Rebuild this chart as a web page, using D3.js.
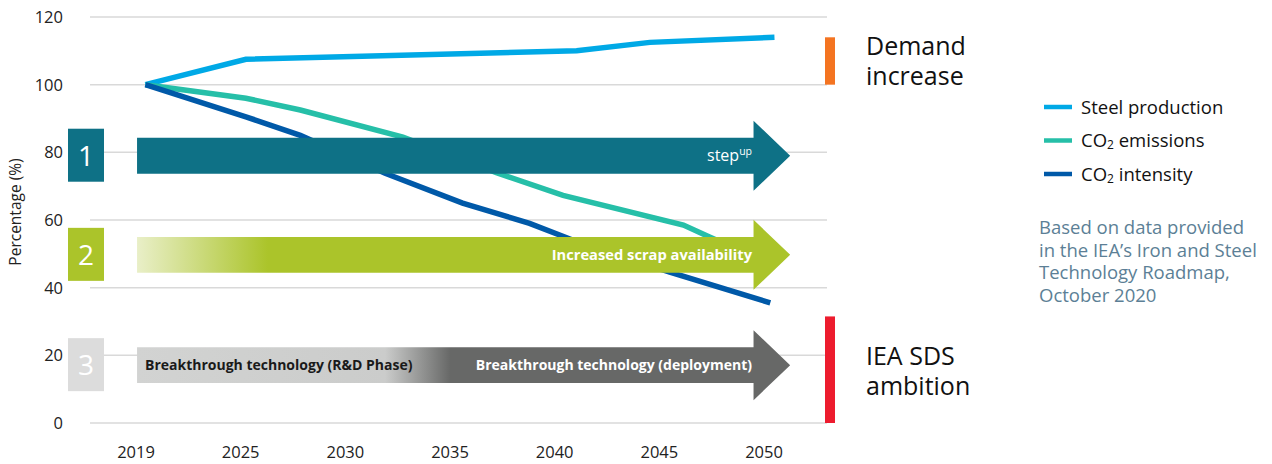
<!DOCTYPE html>
<html>
<head>
<meta charset="utf-8">
<script src="https://cdn.jsdelivr.net/npm/d3@7"></script>
<style>
  body { margin: 0; background: #fff; }
  svg { display: block; font-family: 'Open Sans', sans-serif; }
</style>
</head>
<body>
<svg id="chart" width="1272" height="464"></svg>
<script>
// Category labels on the x axis
var years = ['2019', '2025', '2030', '2035', '2040', '2045', '2050'];

// Y axis ticks
var yTicks = [0, 20, 40, 60, 80, 100, 120];

// Series, as [category position, percentage]
var steelProduction = [[0.09, 100], [1.05, 107.5], [4.21, 110], [4.91, 112.5], [6.1, 114]];
var co2Emissions = [[0.09, 100], [1.05, 96], [1.57, 92.5], [2.55, 84.5], [3.45, 73.9], [4.08, 67.3], [5.23, 58.5], [5.48, 55], [6.06, 47]];
var co2Intensity = [[0.09, 100], [1.05, 90.5], [1.57, 85], [2.38, 73.8], [3.12, 65], [3.76, 59], [4.22, 53.5], [5.1, 44.6], [6.06, 35.5]];

// Levers (number, centre value, label)
var levers = [
  { num: '1', at: 79, color: '#0e7186', fill: '#0e7186' },
  { num: '2', at: 49.7, color: '#abc42a', fill: 'url(#grad-scrap)' },
  { num: '3', at: 17.1, color: '#dcdcdc', fill: 'url(#grad-tech)' }
];

// Ranges marked on the right
var ranges = [
  { from: 100, to: 114, color: '#f47421', text: ['Demand', 'increase'] },
  { from: 0, to: 31.5, color: '#ed1c2e', text: ['IEA SDS', 'ambition'] }
];

var svg = d3.select('#chart');

// Scales
var x = d3.scaleLinear().domain([0, 6]).range([136, 764]);
var y = d3.scaleLinear().domain([0, 120]).range([423, 17]);

// Gradients for the arrows
var defs = svg.append('defs');
var g1 = defs.append('linearGradient').attr('id', 'grad-scrap')
  .attr('gradientUnits', 'userSpaceOnUse').attr('x1', 137).attr('x2', 268).attr('y1', 0).attr('y2', 0);
g1.append('stop').attr('offset', 0).attr('stop-color', '#e9efc8');
g1.append('stop').attr('offset', 1).attr('stop-color', '#abc42a');
var g2 = defs.append('linearGradient').attr('id', 'grad-tech')
  .attr('gradientUnits', 'userSpaceOnUse').attr('x1', 137).attr('x2', 790).attr('y1', 0).attr('y2', 0);
g2.append('stop').attr('offset', 0).attr('stop-color', '#d2d3d2');
g2.append('stop').attr('offset', 0.38).attr('stop-color', '#cbcccb');
g2.append('stop').attr('offset', 0.48).attr('stop-color', '#676867');
g2.append('stop').attr('offset', 1).attr('stop-color', '#676867');

// Gridlines
svg.append('g').selectAll('line').data(yTicks).enter().append('line')
  .attr('x1', 90).attr('x2', 827)
  .attr('y1', function(d) { return y(d); }).attr('y2', function(d) { return y(d); })
  .attr('stroke', '#d9d9d9').attr('stroke-width', 1.5);

// Y axis labels
svg.append('g').selectAll('text').data(yTicks).enter().append('text')
  .attr('x', 63).attr('y', function(d) { return y(d) + 6; })
  .attr('text-anchor', 'end').attr('font-size', 16.5).attr('fill', '#222')
  .text(function(d) { return d; });

svg.append('text')
  .attr('transform', 'translate(21,212) rotate(-90)')
  .attr('text-anchor', 'middle').attr('font-size', 15.5).attr('fill', '#222')
  .text('Percentage (%)');

// X axis labels
svg.append('g').selectAll('text').data(years).enter().append('text')
  .attr('x', function(d, i) { return x(i); }).attr('y', 458)
  .attr('text-anchor', 'middle').attr('font-size', 16.5).attr('fill', '#222')
  .text(function(d) { return d; });

// Lines
var line = d3.line()
  .x(function(d) { return x(d[0]); })
  .y(function(d) { return y(d[1]); });

var series = [
  { values: steelProduction, color: '#00a9e6' },
  { values: co2Emissions, color: '#26bfa8' },
  { values: co2Intensity, color: '#0059a8' }
];

svg.append('g').selectAll('path').data(series).enter().append('path')
  .attr('d', function(d) { return line(d.values); })
  .attr('fill', 'none')
  .attr('stroke', function(d) { return d.color; })
  .attr('stroke-width', 5.5);

// Arrows and number boxes
var bodyHalf = 5.3, headHalf = 10.35;
var arrow = function(c) {
  var x0 = x(0.01), xb = x(5.9), xt = x(6.25);
  return 'M' + x0 + ',' + y(c + bodyHalf) +
    'L' + xb + ',' + y(c + bodyHalf) +
    'L' + xb + ',' + y(c + headHalf) +
    'L' + xt + ',' + y(c) +
    'L' + xb + ',' + y(c - headHalf) +
    'L' + xb + ',' + y(c - bodyHalf) +
    'L' + x0 + ',' + y(c - bodyHalf) + 'Z';
};

var lever = svg.append('g').selectAll('g').data(levers).enter().append('g');

lever.append('path')
  .attr('d', function(d) { return arrow(d.at); })
  .attr('fill', function(d) { return d.fill; });

lever.append('rect')
  .attr('x', 68).attr('width', 36)
  .attr('y', function(d) { return y(d.at) - 27; }).attr('height', 53)
  .attr('fill', function(d) { return d.color; });

lever.append('text')
  .attr('x', 86).attr('y', function(d) { return y(d.at) + 10; })
  .attr('text-anchor', 'middle').attr('font-size', 28).attr('fill', '#fff')
  .text(function(d) { return d.num; });

// Arrow labels
var t1 = svg.append('text')
  .attr('x', 752).attr('y', y(levers[0].at) + 5)
  .attr('text-anchor', 'end').attr('font-size', 16).attr('fill', '#fff');
t1.append('tspan').text('step');
t1.append('tspan').attr('dy', -6).attr('font-size', 10.5).text('up');

svg.append('text')
  .attr('x', 752).attr('y', y(levers[1].at) + 5)
  .attr('text-anchor', 'end').attr('font-size', 14.7).attr('font-weight', 'bold').attr('fill', '#fff')
  .text('Increased scrap availability');

svg.append('text')
  .attr('x', 145).attr('y', y(levers[2].at) + 5)
  .attr('font-size', 14).attr('font-weight', 'bold').attr('fill', '#1a1a1a')
  .text('Breakthrough technology (R&D Phase)');

svg.append('text')
  .attr('x', 752).attr('y', y(levers[2].at) + 5)
  .attr('text-anchor', 'end').attr('font-size', 14).attr('font-weight', 'bold').attr('fill', '#fff')
  .text('Breakthrough technology (deployment)');

// Ranges on the right
var range = svg.append('g').selectAll('g').data(ranges).enter().append('g');

range.append('rect')
  .attr('x', 825).attr('width', 10)
  .attr('y', function(d) { return y(d.to); })
  .attr('height', function(d) { return y(d.from) - y(d.to); })
  .attr('fill', function(d) { return d.color; });

// Two-line captions, kept in one text each
range.each(function(d, i) {
  var t = d3.select(this).append('text')
    .attr('y', i === 0 ? 55 : 365)
    .attr('font-size', 25).attr('fill', '#111');
  t.selectAll('tspan').data(d.text).enter().append('tspan')
    .attr('x', 866)
    .attr('dy', function(s, j) { return j === 0 ? 0 : 29.5; })
    .text(function(s) { return s; });
});

// Legend
var legendItems = [
  { name: ['Steel production'], color: '#00a9e6' },
  { name: ['CO', '2', ' emissions'], color: '#26bfa8' },
  { name: ['CO', '2', ' intensity'], color: '#0059a8' }
];

var legend = svg.append('g').selectAll('g').data(legendItems).enter().append('g')
  .attr('transform', function(d, i) { return 'translate(1044,' + (107 + i * 33.5) + ')'; });

legend.append('line')
  .attr('x1', 0).attr('x2', 28)
  .attr('stroke', function(d) { return d.color; }).attr('stroke-width', 4.5);

legend.each(function(d) {
  var t = d3.select(this).append('text')
    .attr('x', 37).attr('y', 6.5).attr('font-size', 18.5).attr('fill', '#111');
  t.append('tspan').text(d.name[0]);
  if (d.name.length > 1) {
    t.append('tspan').attr('dy', 2).attr('font-size', 12).text(d.name[1]);
    t.append('tspan').attr('dy', -2).text(d.name[2]);
  }
});

// Source note
var source = ['Based on data provided', 'in the IEA\u2019s Iron and Steel', 'Technology Roadmap,', 'October 2020'];
svg.append('g').selectAll('text').data(source).enter().append('text')
  .attr('x', 1039).attr('y', function(d, i) { return 234 + i * 22.5; })
  .attr('font-size', 18.5).attr('fill', '#5c7f96')
  .text(function(d) { return d; });
</script>
</body>
</html>
